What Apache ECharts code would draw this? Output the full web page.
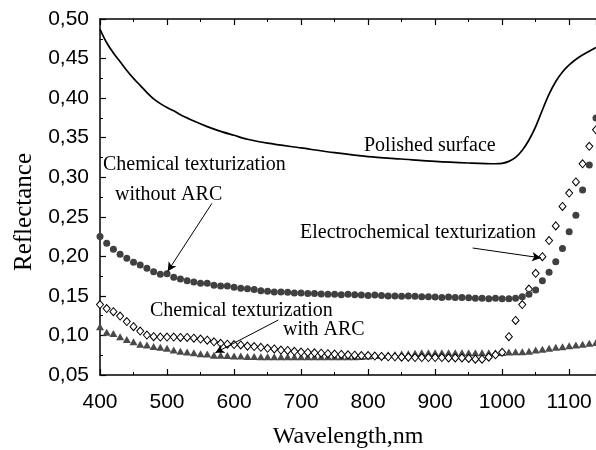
<!DOCTYPE html>
<html lang="en">
<head>
<meta charset="utf-8">
<title>Reflectance</title>
<script src="https://cdn.jsdelivr.net/npm/echarts@6/dist/echarts.min.js"></script>
<style>
  html, body { margin: 0; padding: 0; background: #fff; }
  #main { width: 596px; height: 450px; }
</style>
</head>
<body>
<div id="main"></div>
<script type="text/javascript">
// wavelengths of the marker series, nm
let wavelengths = [
  400, 410, 420, 430, 440, 450, 460, 470, 480, 490,
  500, 510, 520, 530, 540, 550, 560, 570, 580, 590,
  600, 610, 620, 630, 640, 650, 660, 670, 680, 690,
  700, 710, 720, 730, 740, 750, 760, 770, 780, 790,
  800, 810, 820, 830, 840, 850, 860, 870, 880, 890,
  900, 910, 920, 930, 940, 950, 960, 970, 980, 990,
  1000, 1010, 1020, 1030, 1040, 1050, 1060, 1070, 1080, 1090,
  1100, 1110, 1120, 1130, 1140
];

// chemical texturization without ARC (filled circles)
let withoutArc = [
  .225, .2165, .209, .2025, .1975, .1925, .189, .185, .1805, .1775,
  .178, .1735, .1715, .169, .1675, .166, .166, .1635, .1625, .1625,
  .161, .1595, .159, .158, .1565, .156, .155, .155, .1545, .1535,
  .1535, .153, .153, .1525, .152, .152, .1515, .152, .1515, .151,
  .1505, .151, .1505, .150, .150, .1495, .150, .1495, .149, .149,
  .1485, .148, .1485, .148, .148, .1475, .147, .147, .1465, .147,
  .1465, .1465, .147, .149, .152, .1575, .169, .180, .193, .210,
  .231, .252, .284, .3155, .375
];

// electrochemical texturization (open diamonds)
let electrochem = [
  .139, .134, .130, .1245, .1175, .111, .1055, .1005, .0985, .098,
  .098, .098, .0975, .0975, .0965, .0955, .094, .092, .090, .089,
  .0885, .088, .0865, .086, .085, .0837, .083, .0815, .081, .080,
  .079, .0785, .078, .0775, .077, .0765, .076, .0755, .075, .0745,
  .0745, .074, .0735, .073, .073, .0725, .0725, .072, .072, .072,
  .072, .072, .0715, .0715, .0715, .071, .070, .070, .0725, .0755,
  .0787, .0985, .119, .139, .1587, .1785, .1996, .220, .2385, .263,
  .280, .294, .317, .339, .36
];

// chemical texturization with ARC (triangles)
let withArc = [
  .111, .104, .1025, .0985, .095, .092, .089, .088, .086, .085,
  .0837, .0815, .080, .079, .078, .077, .0765, .075, .075, .0745,
  .074, .074, .0735, .0735, .073, .073, .073, .073, .073, .073,
  .073, .073, .073, .073, .073, .073, .073, .073, .073, .0735,
  .074, .0745, .075, .0755, .076, .0765, .077, .0775, .078, .078,
  .078, .078, .078, .078, .078, .078, .078, .078, .078, .078,
  .0785, .079, .0795, .0795, .080, .0815, .0825, .0837, .085, .0858,
  .087, .088, .089, .090, .091
];

// polished surface (solid line)
let polishedX = [400, 410, 420, 430, 440, 450, 460, 470, 480, 490, 500, 510, 520, 530, 540, 560, 580, 600, 620, 650,
  700, 750, 800, 850, 900, 950, 990, 1000, 1010, 1020, 1030, 1040, 1050, 1060, 1070, 1080, 1090, 1100, 1115, 1140];
let polishedY = [.487, .470, .457, .446, .435, .425, .416, .407, .399, .393, .388, .384, .379, .375, .371, .364, .358, .353, .348, .343,
  .337, .331, .326, .323, .320, .318, .317, .3175, .320, .325, .334, .347, .364, .385, .405, .421, .433, .442, .452, .464];

// arrows: [from, to] in data units
let arrows = [
  [[567, 0.267], [501, 0.181]],
  [[956, 0.2105], [1058, 0.198]],
  [[666, 0.1195], [572, 0.078]]
];

function pairs(xs, ys){
  return xs.map((x, i) => [x, ys[i]]);
}

let serif = '"Liberation Serif", "Times New Roman", serif';
let sans = '"Liberation Sans", Arial, sans-serif';

let tickStyle = { show: true, inside: true, length: 6, lineStyle: { color: '#000', width: 1.2 } };
let minorStyle = { show: true, splitNumber: 2, length: 3, lineStyle: { color: '#000', width: 1 } };
let lineStyle = { show: true, onZero: false, lineStyle: { color: '#000', width: 1.5 } };

let Chart = echarts.init(document.getElementById('main'));

let option = {
  animation: false,
  grid: { left: 100, top: 19, width: 496, height: 356, outerBoundsMode: 'none', containLabel: false },
  xAxis: [
    {
      type: 'value', min: 400, max: 1140, interval: 100,
      name: 'Wavelength,nm', nameLocation: 'middle', nameGap: 50,
      nameTextStyle: { fontFamily: serif, fontSize: 24, color: '#000' },
      axisLine: lineStyle, axisTick: tickStyle, minorTick: minorStyle,
      axisLabel: {
        fontFamily: sans, fontSize: 21, color: '#000', margin: 17, showMaxLabel: false,
        formatter: (v) => String(v)
      },
      splitLine: { show: false }
    },
    {
      type: 'value', min: 400, max: 1140, interval: 100, position: 'top',
      axisLine: lineStyle, axisTick: tickStyle, minorTick: minorStyle,
      axisLabel: { show: false },
      splitLine: { show: false }
    }
  ],
  yAxis: {
    type: 'value', min: 0.05, max: 0.5, interval: 0.05,
    axisLine: lineStyle, axisTick: tickStyle, minorTick: minorStyle,
    axisLabel: {
      fontFamily: sans, fontSize: 21, color: '#000', margin: 11,
      formatter: (v) => v.toFixed(2).replace('.', ',')
    },
    splitLine: { show: false }
  },
  series: [
    {
      name: 'Polished surface', type: 'line', data: pairs(polishedX, polishedY),
      showSymbol: false, smooth: 0.3,
      lineStyle: { color: '#000', width: 1.7 },
      markLine: {
        silent: true, symbol: ['none', 'arrow'], symbolSize: [7, 9],
        label: { show: false },
        lineStyle: { color: '#000', width: 1, type: 'solid' },
        data: arrows.map((a) => [{ coord: a[0] }, { coord: a[1] }])
      }
    },
    {
      name: 'Chemical texturization with ARC', type: 'line', data: pairs(wavelengths, withArc),
      lineStyle: { width: 0 }, symbol: 'triangle', symbolSize: [8, 7],
      itemStyle: { color: '#4a4a4a' }
    },
    {
      name: 'Electrochemical texturization', type: 'line', data: pairs(wavelengths, electrochem),
      lineStyle: { width: 0 }, symbol: 'diamond', symbolSize: [7, 8],
      itemStyle: { color: '#fff', borderColor: '#000', borderWidth: 1 }
    },
    {
      name: 'Chemical texturization without ARC', type: 'line', data: pairs(wavelengths, withoutArc),
      lineStyle: { width: 0 }, symbol: 'circle', symbolSize: 7,
      itemStyle: { color: '#404040' }
    }
  ],
  graphic: [
    {
      type: 'text', x: 24, y: 212, rotation: Math.PI / 2,
      style: { text: 'Reflectance', font: '25px ' + serif, fill: '#000', align: 'center', verticalAlign: 'middle' }
    },
    { type: 'text', left: 364, top: 136, style: { text: 'Polished surface', font: '20px ' + serif, fill: '#000' } },
    { type: 'text', left: 103, top: 155, style: { text: 'Chemical texturization', font: '20px ' + serif, fill: '#000' } },
    { type: 'text', left: 115, top: 185, style: { text: 'without ARC', font: '20px ' + serif, fill: '#000' } },
    { type: 'text', left: 300, top: 223, style: { text: 'Electrochemical texturization', font: '20px ' + serif, fill: '#000' } },
    { type: 'text', left: 150, top: 301, style: { text: 'Chemical texturization', font: '20px ' + serif, fill: '#000' } },
    { type: 'text', left: 283, top: 320, style: { text: 'with ARC', font: '20px ' + serif, fill: '#000' } }
  ]
};

Chart.setOption(option);
</script>
</body>
</html>
